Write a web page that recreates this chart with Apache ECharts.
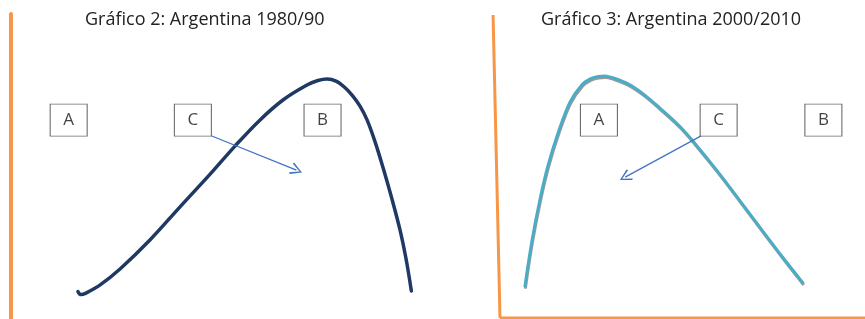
<!DOCTYPE html>
<html>
<head>
<meta charset="utf-8">
<script src="https://cdn.jsdelivr.net/npm/echarts@6/dist/echarts.min.js"></script>
<style>
  html, body { margin: 0; padding: 0; background: #fff; }
  #chart { width: 865px; height: 319px; }
</style>
</head>
<body>
<div id="chart"></div>
<script>
// títulos de los dos gráficos
var titulos = ['Gráfico 2: Argentina 1980/90', 'Gráfico 3: Argentina 2000/2010'];

// curva gráfico 2 (unidades 0-100 en cada eje)
var curva1980 = [
  [15.9, 9.0], [16.6, 8.0], [17.8, 8.5], [21.1, 11.1], [25.9, 16.4], [33.0, 25.9],
  [40.1, 36.7], [47.3, 47.5], [53.2, 56.7], [59.1, 65.2], [64.6, 71.8], [70.3, 76.7],
  [72.9, 78.2], [75.1, 78.7], [77.2, 78.0], [79.3, 75.9], [81.2, 73.1], [82.9, 69.8],
  [84.6, 65.2], [86.5, 58.0], [88.4, 49.5], [90.5, 39.3], [92.4, 29.2], [93.8, 20.0],
  [95.1, 9.2]
];

// curva gráfico 3
var curva2000 = [
  [6.8, 10.2], [8.7, 25.1], [11.0, 39.4], [13.2, 50.5], [16.0, 61.4], [19.2, 71.3],
  [22.4, 76.9], [24.7, 78.9], [26.9, 79.7], [28.8, 79.9], [30.6, 79.4], [35.2, 77.2],
  [39.3, 73.9], [43.8, 69.3], [49.3, 63.2], [53.4, 57.6], [59.4, 48.7], [65.8, 38.6],
  [72.1, 28.5], [77.6, 19.8], [83.1, 11.4]
];

// cajas A, C, B
var letras = ['A', 'C', 'B'];
var cajas1980 = [[13.7, 65.2], [43.2, 65.2], [74.0, 65.2]];
var cajas2000 = [[27.1, 65.3], [59.9, 65.3], [88.6, 65.3]];

// flechas (inicio, fin)
var flecha1980 = [[47.7, 60.0], [67.8, 48.8]];
var flecha2000 = [[55.1, 60.1], [34.3, 46.5]];

// ejes dibujados a mano del gráfico 3
var ejeY2000 = [[-1.9, 100], [0, 0]];
var ejeX2000 = [[0, 0], [100, 0]];

var naranja = '#F79646';
var chevron = 'path://M5,0 L10,9 L9,10 L5,2.2 L1,10 L0,9 Z';

function cajas(pts, flecha, grid) {
  return {
    type: 'scatter',
    xAxisIndex: grid, yAxisIndex: grid,
    symbol: 'rect',
    symbolSize: [37, 32],
    z: 5,
    itemStyle: { color: '#fff', borderColor: '#444', borderWidth: 1 },
    label: {
      show: true, position: 'inside', color: '#111',
      fontFamily: 'Open Sans', fontSize: 17, padding: [3, 0, 0, 0],
      formatter: function (p) { return letras[p.dataIndex]; }
    },
    data: pts,
    silent: true,
    markLine: {
      silent: true,
      symbol: ['none', chevron],
      symbolSize: 12,
      label: { show: false },
      lineStyle: { type: 'solid', color: '#4472C4', width: 1.3 },
      data: [[{ coord: flecha[0] }, { coord: flecha[1] }]]
    }
  };
}

function eje(datos) {
  return {
    type: 'line', xAxisIndex: 1, yAxisIndex: 1,
    data: datos, clip: false, showSymbol: false, silent: true,
    lineStyle: { color: naranja, width: 3 }
  };
}

var myChart = echarts.init(document.getElementById('chart'));
var option = {
  animation: false,
  title: [
    { text: titulos[0], left: 85, top: 11, padding: 0,
      textStyle: { fontFamily: 'Open Sans', fontSize: 18, fontWeight: 'normal', color: '#222' } },
    { text: titulos[1], left: 541, top: 11, padding: 0,
      textStyle: { fontFamily: 'Open Sans', fontSize: 18, fontWeight: 'normal', color: '#222' } }
  ],
  grid: [
    { left: 11, top: 14, width: 421, bottom: 0 },
    { left: 493, top: 15, width: 372, bottom: 1 }
  ],
  xAxis: [
    { type: 'value', gridIndex: 0, min: 0, max: 100, show: false },
    { type: 'value', gridIndex: 1, min: -1.918, max: 100, show: false }
  ],
  yAxis: [
    { type: 'value', gridIndex: 0, min: 0, max: 100,
      axisLine: { show: true, lineStyle: { color: naranja, width: 4 } },
      axisTick: { show: false }, axisLabel: { show: false }, splitLine: { show: false } },
    { type: 'value', gridIndex: 1, min: 0, max: 100, show: false }
  ],
  series: [
    {
      type: 'line', xAxisIndex: 0, yAxisIndex: 0,
      data: curva1980, smooth: 0.35, showSymbol: false, silent: true,
      lineStyle: { color: '#1F3864', width: 3.5, cap: 'round' }
    },
    {
      type: 'line', xAxisIndex: 1, yAxisIndex: 1,
      data: curva2000, smooth: 0.35, showSymbol: false, silent: true,
      lineStyle: { color: '#4BACC6', width: 3,
        shadowColor: '#9a9a9a', shadowBlur: 0, shadowOffsetX: 0.5, shadowOffsetY: 1.5 }
    },
    eje(ejeY2000),
    eje(ejeX2000),
    cajas(cajas1980, flecha1980, 0),
    cajas(cajas2000, flecha2000, 1)
  ]
};
myChart.setOption(option);
</script>
</body>
</html>
